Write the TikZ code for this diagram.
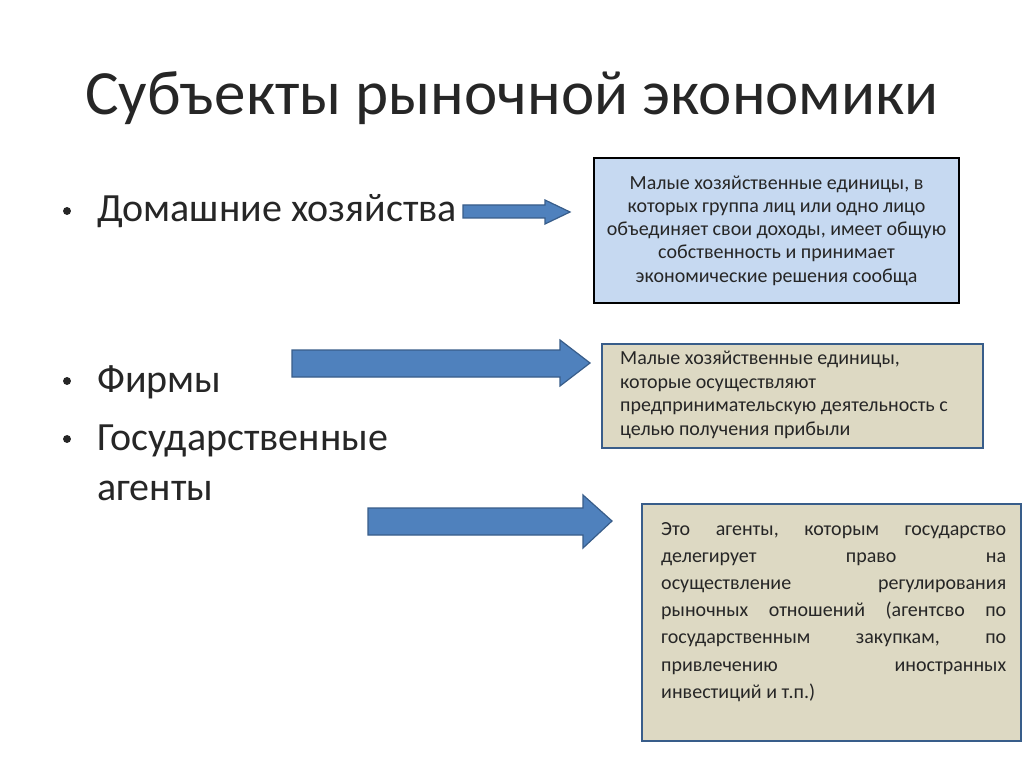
\documentclass[tikz,border=0pt]{standalone}
\usepackage{fontspec}
\setmainfont{Carlito}
\definecolor{arrowblue}{HTML}{4F81BD}
\definecolor{arrowedge}{HTML}{385D8A}
\definecolor{paleblue}{HTML}{C6D9F1}
\definecolor{paletan}{HTML}{DDD9C3}
\newcommand{\spread}[1]{\hbox to 345pt{#1}}
\begin{document}
\begin{tikzpicture}
      [x=1pt,y=-1pt,
       blockarrow/.style={fill=arrowblue,draw=arrowedge,line width=1.2pt},
       note/.style={rectangle,anchor=north west,inner sep=0pt,line width=2pt},
       bullet/.style={anchor=base west,inner sep=0pt,font=\fontsize{40}{48}\selectfont,text=black!85}]
      \useasboundingbox[fill=white] (0,0) rectangle (1024,767);
      \node at (512,115) (title) [anchor=base,font=\fontsize{63}{72}\selectfont,text=black!85] {Субъекты рыночной экономики};
      % bullets
      \node at (97,222) (b1) [bullet] {Домашние хозяйства};
      \node at (97,392) (b2) [bullet] {Фирмы};
      \node at (97,450) (b3) [bullet] {Государственные};
      \node at (97,500) (b3b) [bullet] {агенты};
      \foreach \n in {b1,b2,b3}
        \node at ([xshift=-30pt,yshift=11pt]\n.base west) [circle,fill=black!85,inner sep=2.8pt] {};
      \node at (538,210) (dot) [circle,fill=black,inner sep=2.5pt] {};
      % arrows
      \draw [blockarrow] (463,205) -- (545,205) -- (545,200) -- (570,212) -- (545,224) -- (545,218) -- (463,218) -- cycle;
      \draw [blockarrow] (292,350) -- (560,350) -- (560,340) -- (590,363) -- (560,386) -- (560,377) -- (292,377) -- cycle;
      \draw [blockarrow] (368,508) -- (583,508) -- (583,495) -- (612,521) -- (583,548) -- (583,535) -- (368,535) -- cycle;
      % boxes
      \node at (593,157) (h) [note,draw=black,fill=paleblue,minimum width=365pt,minimum height=145pt] {};
      \node at (h.center) (ht) [align=center,font=\fontsize{20}{23.3}\selectfont,text=black!85] {Малые хозяйственные единицы, в\\которых группа лиц или одно лицо\\объединяет свои доходы, имеет общую\\собственность и принимает\\экономические решения сообща};
      \node at (601,343) (f) [note,draw=arrowedge,fill=paletan,minimum width=381pt,minimum height=104pt] {};
      \node at (620,351) (ft) [anchor=north west,inner sep=0pt,align=left,font=\fontsize{20}{23.5}\selectfont,text=black!85] {Малые хозяйственные единицы,\\которые осуществляют\\предпринимательскую деятельность с\\целью получения прибыли};
      \node at (641,503) (g) [note,draw=arrowedge,fill=paletan,minimum width=379pt,minimum height=237pt] {};
      \node at (661,522) (gt) [anchor=north west,inner sep=0pt,align=left,font=\fontsize{20}{27.2}\selectfont,text=black!85]
        {\spread{Это\hfill агенты,\hfill которым\hfill государство}\\
         \spread{делегирует\hfill право\hfill на}\\
         \spread{осуществление\hfill регулирования}\\
         \spread{рыночных\hfill отношений\hfill (агентсво\hfill по}\\
         \spread{государственным\hfill закупкам,\hfill по}\\
         \spread{привлечению\hfill иностранных}\\
         инвестиций и т.п.)};
\end{tikzpicture}
\end{document}
